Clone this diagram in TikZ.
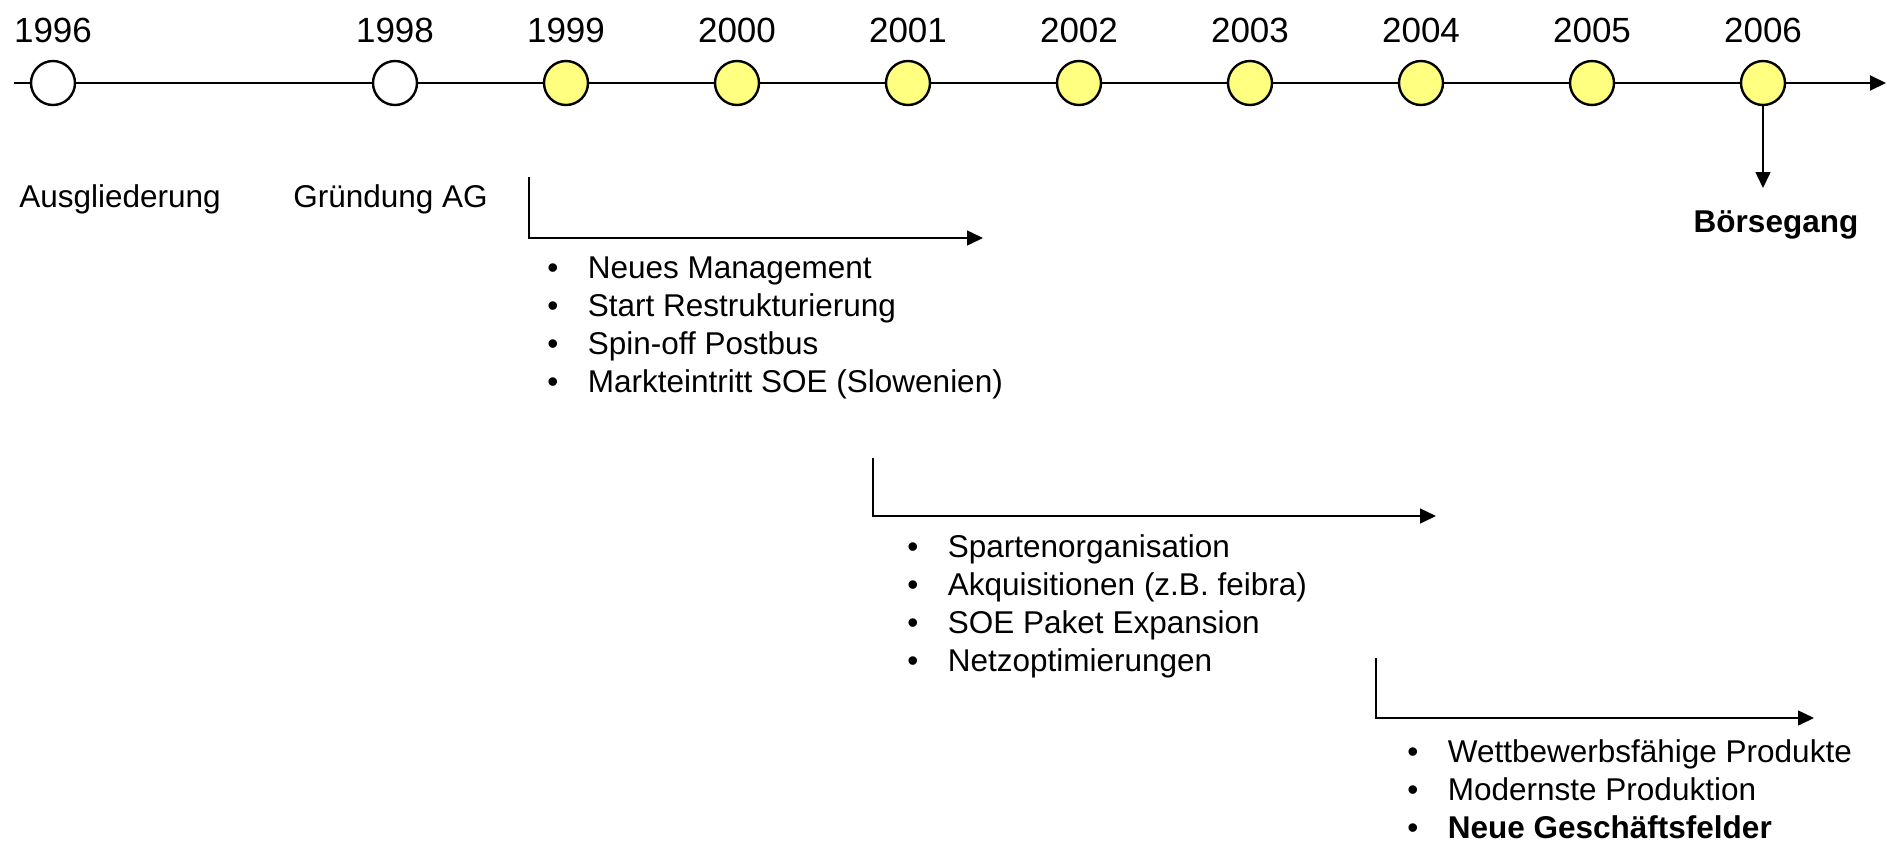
\documentclass[tikz,border=0pt]{standalone}
\usepackage{fontspec}
\setmainfont{Liberation Sans}
\usetikzlibrary{arrows.meta}
\definecolor{dotyellow}{RGB}{255,255,128}
\newcommand{\bodyfont}{\fontsize{15.75pt}{19pt}\selectfont}
\newcommand{\yearfont}{\fontsize{17.5pt}{21pt}\selectfont}
\newcommand{\blist}[1]{\begin{tabular}[t]{@{}l@{\hspace{14.75pt}}l@{}}#1\end{tabular}}
\begin{document}
\begin{tikzpicture}[x=0.5pt,y=-0.5pt,
  event/.style={circle,draw=black,line width=1.2pt,minimum size=22pt,inner sep=0pt},
  past/.style={event,fill=white},
  recent/.style={event,fill=dotyellow},
  axisline/.style={line width=1pt},
  yearlabel/.style={font=\yearfont,anchor=base,inner sep=0pt},
  evtext/.style={font=\bodyfont,anchor=base west,inner sep=0pt},
  listtext/.style={font=\bodyfont,anchor=base west,inner sep=0pt},
  phase/.style={line width=0.75pt,-{Triangle[length=8pt,width=7.5pt]}},
  tip/.style={-{Triangle[length=8pt,width=7.5pt]}},
  ]
\useasboundingbox (0,0) rectangle (1887,842);

% timeline
\coordinate (axisstart) at (14,83);
\coordinate (axisend) at (1886,83);
\node[past]   (c1996) at (53,83) {};
\node[past]   (c1998) at (395,83) {};
\node[recent] (c1999) at (566,83) {};
\node[recent] (c2000) at (737,83) {};
\node[recent] (c2001) at (908,83) {};
\node[recent] (c2002) at (1079,83) {};
\node[recent] (c2003) at (1250,83) {};
\node[recent] (c2004) at (1421,83) {};
\node[recent] (c2005) at (1592,83) {};
\node[recent] (c2006) at (1763,83) {};

\draw[axisline] (axisstart) -- (c1996);
\draw[axisline] (c1996) -- (c1998);
\draw[axisline] (c1998) -- (c1999);
\draw[axisline] (c1999) -- (c2000);
\draw[axisline] (c2000) -- (c2001);
\draw[axisline] (c2001) -- (c2002);
\draw[axisline] (c2002) -- (c2003);
\draw[axisline] (c2003) -- (c2004);
\draw[axisline] (c2004) -- (c2005);
\draw[axisline] (c2005) -- (c2006);
\draw[axisline,tip] (c2006) -- (axisend);

% year labels
\node[yearlabel] (l1996) at (53,42) {1996};
\node[yearlabel] (l1998) at (395,42) {1998};
\node[yearlabel] (l1999) at (566,42) {1999};
\node[yearlabel] (l2000) at (737,42) {2000};
\node[yearlabel] (l2001) at (908,42) {2001};
\node[yearlabel] (l2002) at (1079,42) {2002};
\node[yearlabel] (l2003) at (1250,42) {2003};
\node[yearlabel] (l2004) at (1421,42) {2004};
\node[yearlabel] (l2005) at (1592,42) {2005};
\node[yearlabel] (l2006) at (1763,42) {2006};

% event texts
\node[evtext] (ausgl) at (19,207) {Ausgliederung};
\node[evtext] (gruend) at (293,207) {Gründung AG};
\node[font=\bodyfont\bfseries,anchor=base,inner sep=0pt] (boerse) at (1776,232) {Börsegang};
\coordinate (ipotip) at (1763,188);
\draw[line width=0.75pt,tip] (c2006) -- (ipotip);

% phase 1
\coordinate (p1top) at (529,177);
\coordinate (p1end) at (983,238);
\draw[phase] (p1top) |- (p1end);
\node[listtext] (list1) at (547,278) {\blist{%
  • & Neues Management\\
  • & Start Restrukturierung\\
  • & Spin-off Postbus\\
  • & Markteintritt SOE (Slowenien)}};

% phase 2
\coordinate (p2top) at (873,458);
\coordinate (p2end) at (1436,516);
\draw[phase] (p2top) |- (p2end);
\node[listtext] (list2) at (907,557) {\blist{%
  • & Spartenorganisation\\
  • & Akquisitionen (z.B. feibra)\\
  • & SOE Paket Expansion\\
  • & Netzoptimierungen}};

% phase 3
\coordinate (p3top) at (1376,658);
\coordinate (p3end) at (1814,718);
\draw[phase] (p3top) |- (p3end);
\node[listtext] (list3) at (1407,762) {\blist{%
  • & Wettbewerbsfähige Produkte\\
  • & Modernste Produktion\\
  • & \textbf{Neue Geschäftsfelder}}};
\end{tikzpicture}
\end{document}
